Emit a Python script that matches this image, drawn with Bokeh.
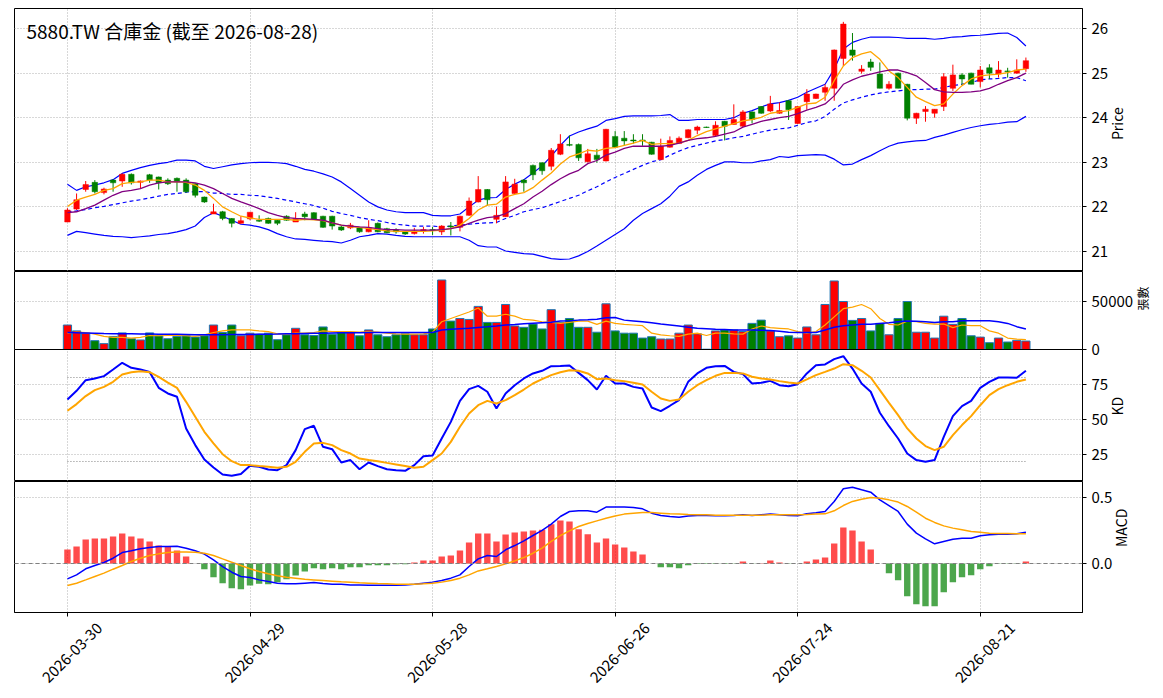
import math
from bokeh.plotting import figure
from bokeh.models import Range1d, FixedTicker, Span, Label, LinearAxis
from bokeh.layouts import column
from bokeh.embed import file_html
from bokeh.resources import INLINE

FONT = "Noto Sans CJK TC"
TITLE = "5880.TW 合庫金 (截至 2026-08-28)"

TICK_POS = [0, 20, 40, 60, 80, 100]
TICK_LABELS = ["2026-03-30", "2026-04-29", "2026-05-28", "2026-06-26", "2026-07-24", "2026-08-21"]

OPEN = [21.66,21.95,22.39,22.55,22.32,22.60,22.58,22.73,22.55,22.72,
        22.67,22.60,22.64,22.60,22.52,22.22,21.84,21.89,21.74,21.63,
        21.73,21.70,21.74,21.70,21.79,21.66,21.84,21.87,21.79,21.79,
        21.55,21.53,21.53,21.44,21.63,21.51,21.48,21.44,21.40,21.46,
        21.49,21.44,21.57,21.54,21.81,22.11,22.39,21.72,21.78,22.30,
        22.60,22.93,22.99,22.91,23.18,23.40,23.40,23.01,23.16,23.03,
        23.58,23.54,23.50,23.50,23.45,23.06,23.34,23.42,23.55,23.72,
        23.79,23.60,23.92,23.85,23.81,24.13,24.25,24.15,24.10,24.38,
        23.87,24.36,24.43,24.57,24.66,25.33,25.52,25.04,25.25,24.98,
        24.66,25.00,24.75,23.99,24.14,24.10,24.25,24.66,24.96,25.00,
        24.81,25.12,24.98,25.05,25.00,25.10]
HIGH = [21.97,22.30,22.58,22.60,22.43,22.62,22.75,22.75,22.59,22.74,
        22.68,22.64,22.66,22.64,22.53,22.23,22.07,21.91,21.75,21.79,
        21.88,21.81,21.76,21.71,21.81,21.88,21.89,21.88,21.80,21.80,
        21.57,21.64,21.55,21.70,21.65,21.53,21.52,21.46,21.53,21.55,
        21.55,21.59,21.66,21.80,22.21,22.69,22.40,22.01,22.69,22.63,
        22.62,22.95,23.00,23.32,23.63,23.60,23.42,23.30,23.30,23.75,
        23.70,23.70,23.63,23.63,23.46,23.53,23.58,23.58,23.74,23.82,
        23.80,23.92,23.93,24.30,24.17,24.14,24.26,24.49,24.34,24.40,
        24.26,24.64,24.54,24.75,25.53,26.15,25.90,25.18,25.32,25.24,
        24.82,25.01,24.76,24.11,24.26,24.19,25.00,25.19,25.00,25.01,
        25.16,25.20,25.27,25.12,25.31,25.35]
LOW = [21.66,21.93,22.34,22.30,22.28,22.34,22.45,22.50,22.41,22.54,
       22.39,22.49,22.34,22.31,22.21,22.09,21.84,21.70,21.54,21.62,
       21.70,21.66,21.62,21.59,21.69,21.66,21.70,21.72,21.53,21.49,
       21.46,21.50,21.42,21.43,21.43,21.41,21.40,21.37,21.38,21.40,
       21.37,21.37,21.36,21.45,21.80,22.10,22.03,21.63,21.78,22.29,
       22.34,22.60,22.72,22.82,23.16,23.36,23.03,23.00,22.99,23.02,
       23.32,23.38,23.42,23.37,23.17,23.05,23.33,23.41,23.54,23.63,
       23.77,23.59,23.49,23.84,23.79,23.87,24.09,24.13,24.09,23.95,
       23.86,24.18,24.42,24.38,24.38,25.16,25.28,24.99,25.05,24.66,
       24.63,24.66,23.94,23.86,23.91,24.00,24.15,24.60,24.73,24.75,
       24.68,24.87,24.90,24.90,24.99,25.03]
CLOSE = [21.93,22.16,22.50,22.34,22.40,22.54,22.73,22.54,22.58,22.60,
         22.54,22.52,22.56,22.34,22.26,22.11,21.89,21.74,21.63,21.69,
         21.88,21.68,21.63,21.63,21.70,21.74,21.78,21.73,21.54,21.57,
         21.48,21.59,21.44,21.53,21.44,21.42,21.44,21.39,21.46,21.49,
         21.47,21.57,21.55,21.79,22.13,22.39,22.16,21.81,22.56,22.51,
         22.54,22.72,22.81,23.27,23.41,23.38,23.10,23.19,23.06,23.74,
         23.34,23.48,23.48,23.48,23.18,23.36,23.49,23.54,23.73,23.79,
         23.78,23.83,23.81,23.96,24.13,23.96,24.10,24.31,24.16,24.18,
         24.25,24.53,24.53,24.68,25.52,26.10,25.40,25.09,25.13,24.66,
         24.75,24.66,23.99,24.10,24.19,24.19,24.92,24.96,24.87,24.75,
         25.07,25.00,25.07,25.03,25.07,25.28]

MA5 = [22.01,22.15,22.22,22.28,22.37,22.41,22.52,22.55,22.56,22.60,
       22.60,22.56,22.56,22.55,22.49,22.37,22.19,22.00,21.89,21.79,
       21.75,21.72,21.72,21.72,21.72,21.70,21.72,21.71,21.69,21.64,
       21.59,21.55,21.54,21.51,21.49,21.46,21.45,21.45,21.45,21.45,
       21.46,21.48,21.51,21.59,21.74,21.93,22.04,22.06,22.22,22.28,
       22.32,22.43,22.60,22.76,22.96,23.12,23.19,23.27,23.25,23.31,
       23.33,23.38,23.43,23.49,23.40,23.42,23.42,23.43,23.49,23.60,
       23.69,23.75,23.81,23.87,23.93,23.96,24.01,24.10,24.13,24.16,
       24.23,24.31,24.33,24.46,24.83,25.16,25.35,25.43,25.48,25.31,
       25.05,24.90,24.68,24.46,24.36,24.27,24.31,24.53,24.72,24.87,
       24.94,24.96,24.98,25.01,25.07,25.09]
MA10 = [21.87,21.89,21.96,22.04,22.15,22.26,22.34,22.37,22.41,22.49,
        22.54,22.56,22.56,22.56,22.54,22.49,22.41,22.30,22.19,22.11,
        22.04,21.96,21.87,21.81,21.76,21.74,21.73,21.72,21.70,21.64,
        21.59,21.57,21.55,21.54,21.51,21.49,21.49,21.48,21.48,21.48,
        21.48,21.49,21.51,21.55,21.63,21.70,21.76,21.78,21.85,21.96,
        22.07,22.22,22.35,22.50,22.63,22.74,22.82,22.97,23.04,23.16,
        23.23,23.31,23.36,23.36,23.36,23.36,23.38,23.43,23.49,23.53,
        23.55,23.58,23.63,23.68,23.79,23.85,23.92,23.96,24.00,24.03,
        24.09,24.17,24.23,24.31,24.49,24.75,24.85,24.93,24.98,25.03,
        25.07,25.07,25.01,24.94,24.79,24.63,24.58,24.57,24.57,24.58,
        24.60,24.66,24.75,24.83,24.90,25.00]
BB_MID = [21.89,21.91,21.94,21.98,22.01,22.05,22.09,22.13,22.16,22.20,
          22.24,22.28,22.30,22.33,22.34,22.34,22.31,22.30,22.28,22.28,
          22.26,22.25,22.22,22.19,22.15,22.11,22.07,22.03,21.97,21.90,
          21.85,21.81,21.76,21.72,21.69,21.65,21.61,21.59,21.57,21.57,
          21.57,21.55,21.57,21.59,21.61,21.63,21.64,21.65,21.74,21.81,
          21.89,21.94,21.98,22.05,22.12,22.19,22.26,22.36,22.45,22.56,
          22.66,22.75,22.84,22.93,23.01,23.06,23.16,23.25,23.33,23.38,
          23.43,23.48,23.51,23.55,23.58,23.63,23.68,23.72,23.75,23.77,
          23.83,23.89,23.93,24.03,24.19,24.33,24.40,24.46,24.51,24.55,
          24.58,24.60,24.63,24.63,24.64,24.64,24.68,24.72,24.75,24.79,
          24.85,24.87,24.88,24.90,24.90,24.83]
BB_UP = [22.51,22.37,22.45,22.49,22.54,22.61,22.75,22.82,22.88,22.93,
         22.97,23.00,23.05,23.05,23.03,22.91,22.86,22.90,22.94,22.97,
         22.99,23.00,23.00,22.99,22.97,22.91,22.84,22.80,22.74,22.67,
         22.56,22.41,22.26,22.11,22.00,21.93,21.89,21.87,21.87,21.87,
         21.81,21.80,21.80,21.84,22.00,22.15,22.20,22.21,22.39,22.51,
         22.61,22.76,22.92,23.14,23.38,23.59,23.68,23.75,23.81,23.94,
         23.98,24.03,24.04,24.04,24.04,24.05,24.07,23.94,23.94,23.96,
         23.96,23.96,23.96,24.00,24.10,24.16,24.24,24.31,24.34,24.39,
         24.46,24.57,24.66,24.75,25.09,25.54,25.69,25.76,25.81,25.81,
         25.81,25.80,25.78,25.78,25.78,25.76,25.78,25.81,25.82,25.84,
         25.85,25.87,25.89,25.90,25.80,25.61]
BB_LOW = [21.36,21.45,21.42,21.39,21.36,21.34,21.33,21.31,21.33,21.35,
          21.38,21.40,21.44,21.49,21.57,21.76,21.87,21.79,21.70,21.61,
          21.59,21.55,21.49,21.40,21.33,21.28,21.27,21.25,21.23,21.22,
          21.19,21.25,21.33,21.36,21.40,21.39,21.36,21.34,21.33,21.33,
          21.33,21.33,21.33,21.33,21.25,21.13,21.10,21.10,21.01,20.98,
          20.95,20.94,20.89,20.84,20.82,20.83,20.90,21.00,21.12,21.25,
          21.38,21.51,21.70,21.85,21.96,22.07,22.24,22.46,22.56,22.71,
          22.84,22.93,23.01,23.01,22.99,22.99,23.03,23.06,23.13,23.11,
          23.15,23.16,23.17,23.16,23.07,22.94,22.96,23.06,23.15,23.26,
          23.36,23.43,23.46,23.48,23.49,23.56,23.61,23.67,23.73,23.78,
          23.82,23.85,23.87,23.90,23.91,24.03]

VOLUME = [25500,19400,17000,9200,6100,13600,17300,11200,9900,17300,
          14300,11200,13600,14300,12900,14300,25500,17700,25500,14300,
          17000,16000,17000,10200,15300,22100,15300,14600,23500,16000,
          17700,17700,14300,20400,15300,13300,15300,16300,15300,15300,
          21400,72400,29600,32300,31300,44900,28200,28200,46900,24500,
          23100,26500,21400,41500,28200,32300,23100,23100,18000,47600,
          19400,17000,17000,11900,13300,10900,10900,17000,25500,16300,
          300,19400,20400,20400,18700,27200,30600,19400,13300,14300,
          11900,23500,15300,46900,71400,50000,30300,32300,19400,27200,
          15300,32300,50000,18000,18000,11900,34700,26200,32300,14300,
          12900,7100,11900,7800,9500,8800]
VOL_MA5 = [17000,18000,17700,16000,13600,12600,12600,11900,12600,14600,
           14300,14600,14600,14300,13600,15300,17700,19400,20400,20400,
           20400,19400,18700,16300,16000,17000,17000,17700,19400,18700,
           18700,18700,18000,18700,18000,17000,16300,16000,16000,16300,
           18000,28900,32300,35700,39100,43200,34700,34700,36700,34700,
           31300,30600,28900,28200,27200,28200,29600,29600,26200,29600,
           27200,26200,25500,24800,17000,15300,14300,13600,16000,17000,
           14600,17000,17000,16300,16000,21400,24500,22800,22100,21400,
           18700,17000,18700,25500,34000,42500,44200,46900,42500,32300,
           26200,25500,29600,28900,27200,26500,26500,22800,25500,24800,
           24800,19400,17000,11900,10900,10200]
VOL_MA20 = [17700,17500,17300,17000,16700,16500,16400,16300,16200,16100,
            16000,15900,15800,15600,15400,15300,15300,15400,15500,15600,
            15600,15800,16000,16100,16300,16300,16600,16800,17000,17300,
            17400,17500,17500,17600,17600,17700,17700,17700,17700,17700,
            17700,20400,21000,21600,22100,23000,23600,24500,25500,26000,
            26700,27300,27900,28500,29600,30000,30600,31000,31600,33000,
            33300,30600,29800,28900,27800,26500,25500,24500,23300,22100,
            21600,21100,20800,20400,20400,20400,20100,19700,19000,18000,
            17800,17700,17700,20400,23100,24800,25500,26200,26200,27200,
            27900,28900,29600,29300,28800,28200,28900,28900,29900,29900,
            29900,29900,28900,27200,23800,21400]

K = [64.3,70.5,78.1,79.3,81.0,85.7,90.5,86.9,85.7,84.0,
     72.6,68.6,66.2,43.6,31.7,21.4,15.7,10.7,9.8,11.0,
     16.9,16.2,14.3,13.8,17.4,28.1,43.1,45.5,30.5,28.8,
     19.3,21.0,14.5,19.3,16.7,14.5,13.8,13.3,17.4,23.8,
     24.3,36.4,48.3,63.3,71.7,74.0,69.8,57.9,68.6,74.5,
     79.3,82.9,84.8,88.1,88.3,88.6,83.3,78.1,71.4,81.2,
     75.7,75.7,73.3,72.1,58.6,56.0,59.8,63.8,76.9,82.9,
     86.9,88.1,88.3,84.0,82.4,75.7,76.2,77.6,74.5,73.8,
     75.2,82.9,88.8,89.3,93.1,95.2,86.4,75.7,69.8,54.8,
     45.2,36.4,25.7,21.0,19.8,21.0,37.6,52.4,59.5,63.3,
     72.6,76.9,80.0,80.0,79.8,84.8]
D = [56.2,61.0,66.7,71.0,73.3,76.9,82.1,83.8,84.5,83.8,
     80.5,76.4,72.6,62.6,51.9,41.2,32.9,25.2,20.2,17.4,
     17.4,16.7,16.2,15.5,16.2,19.8,26.9,32.9,33.3,31.7,
     28.1,25.7,22.1,21.0,20.2,19.0,17.9,16.7,15.5,16.2,
     21.0,25.7,34.0,44.8,54.3,60.2,63.3,61.4,63.8,67.4,
     71.4,75.7,78.8,81.7,83.8,85.2,84.8,82.9,78.8,79.3,
     78.1,77.4,76.2,75.0,69.8,65.0,63.3,64.3,69.8,74.5,
     78.1,81.2,83.3,83.3,82.9,80.5,79.3,78.6,77.4,76.4,
     75.7,78.6,81.7,84.0,86.4,89.5,88.8,84.8,80.0,71.0,
     61.9,53.1,43.6,36.4,31.0,28.1,30.5,38.8,46.0,52.4,
     60.2,67.4,71.7,74.5,76.9,78.6]
KD_LEVELS = [20, 80]

DIF = [-0.116,-0.086,-0.040,-0.015,0.008,0.040,0.083,0.096,0.111,0.121,
       0.129,0.129,0.131,0.116,0.096,0.071,0.028,-0.023,-0.066,-0.098,
       -0.106,-0.124,-0.136,-0.149,-0.154,-0.154,-0.149,-0.144,-0.152,-0.157,
       -0.157,-0.162,-0.162,-0.164,-0.164,-0.164,-0.164,-0.162,-0.157,-0.149,
       -0.141,-0.129,-0.111,-0.086,-0.023,0.035,0.061,0.053,0.104,0.136,
       0.172,0.212,0.251,0.298,0.356,0.394,0.399,0.399,0.389,0.427,
       0.427,0.427,0.424,0.414,0.381,0.364,0.356,0.351,0.359,0.364,
       0.364,0.361,0.361,0.364,0.369,0.364,0.369,0.374,0.369,0.364,
       0.361,0.376,0.384,0.394,0.470,0.566,0.578,0.558,0.540,0.482,
       0.439,0.394,0.298,0.230,0.187,0.149,0.167,0.184,0.192,0.192,
       0.210,0.217,0.222,0.222,0.225,0.237]
DEA = [-0.167,-0.149,-0.124,-0.098,-0.073,-0.043,-0.015,0.015,0.040,0.061,
       0.073,0.083,0.088,0.088,0.086,0.078,0.061,0.035,0.010,-0.015,
       -0.040,-0.061,-0.078,-0.093,-0.104,-0.111,-0.119,-0.124,-0.129,-0.134,
       -0.139,-0.141,-0.146,-0.149,-0.152,-0.154,-0.157,-0.157,-0.157,-0.154,
       -0.149,-0.141,-0.129,-0.111,-0.086,-0.056,-0.040,-0.023,-0.003,0.020,
       0.045,0.078,0.116,0.167,0.212,0.247,0.280,0.303,0.323,0.343,
       0.359,0.374,0.381,0.386,0.386,0.381,0.376,0.374,0.371,0.369,
       0.369,0.366,0.366,0.366,0.366,0.366,0.366,0.369,0.369,0.369,
       0.369,0.371,0.374,0.376,0.399,0.439,0.470,0.487,0.500,0.495,
       0.482,0.465,0.432,0.389,0.343,0.311,0.285,0.268,0.255,0.242,
       0.237,0.230,0.227,0.227,0.225,0.225]
HIST = [0.106,0.129,0.182,0.189,0.189,0.205,0.227,0.205,0.189,0.167,
        0.136,0.129,0.098,0.053,0.0,-0.043,-0.104,-0.149,-0.187,-0.194,
        -0.167,-0.154,-0.157,-0.141,-0.119,-0.091,-0.061,-0.035,-0.043,-0.035,
        -0.043,-0.028,-0.028,-0.013,-0.013,-0.013,-0.005,-0.005,0.008,0.023,
        0.023,0.053,0.061,0.098,0.159,0.227,0.227,0.167,0.220,0.235,
        0.242,0.250,0.255,0.298,0.326,0.318,0.260,0.222,0.159,0.189,
        0.144,0.121,0.091,0.068,0.0,-0.028,-0.028,-0.035,-0.013,-0.003,
        -0.003,-0.003,-0.003,-0.002,0.015,-0.002,0.002,0.023,0.008,-0.002,
        0.0,0.015,0.030,0.045,0.152,0.273,0.250,0.167,0.106,0.0,
        -0.073,-0.126,-0.247,-0.308,-0.323,-0.323,-0.217,-0.141,-0.104,-0.088,
        -0.043,-0.020,-0.002,-0.002,-0.002,0.015]

n = len(CLOSE)
for arr in (OPEN, HIGH, LOW, MA5, MA10, BB_MID, BB_UP, BB_LOW, VOLUME, VOL_MA5,
            VOL_MA20, K, D, DIF, DEA, HIST):
    assert len(arr) == n, len(arr)

idx = list(range(n))
up = [c >= o for o, c in zip(OPEN, CLOSE)]
ccolor = ["red" if u else "green" for u in up]
body_top = [max(o, c) for o, c in zip(OPEN, CLOSE)]
body_bot = [min(o, c) for o, c in zip(OPEN, CLOSE)]
hcolor = ["red" if h >= 0 else "green" for h in HIST]

FRAME_W = 1068
xr = Range1d(-5.8, 111.2)
GRID_C = "#b0b0b0"
TICK_FS = "15px"
LABEL_SHIFT = 3.5  # bars: centres the 45-degree date labels on their ticks


def make(frame_h, y0, y1, yticks, ylabel, label_size="14px", top_border=0,
         bottom_border=0, overrides=None, xaxis=False):
    p = figure(frame_width=FRAME_W, frame_height=frame_h, x_range=xr, y_range=Range1d(y0, y1),
               output_backend="svg", toolbar_location=None, y_axis_location="right",
               x_axis_location="below" if xaxis else None,
               min_border_left=14, min_border_right=75, min_border_top=top_border,
               min_border_bottom=bottom_border)
    p.outline_line_color = "black"
    p.outline_line_alpha = 1.0
    p.outline_line_width = 1
    p.background_fill_color = "white"
    p.border_fill_color = "white"
    ax = p.yaxis[0]
    ax.ticker = FixedTicker(ticks=yticks)
    if overrides:
        ax.major_label_overrides = overrides
    ax.axis_label = ylabel
    try:
        ax.axis_label_orientation = math.pi / 2
    except Exception:
        pass
    ax.axis_label_text_font = FONT
    ax.axis_label_text_font_size = label_size
    ax.axis_label_text_font_style = "normal"
    ax.axis_label_text_color = "black"
    ax.axis_label_standoff = 6
    ax.major_label_text_font = FONT
    ax.major_label_text_font_size = TICK_FS
    ax.major_label_text_color = "black"
    ax.major_label_standoff = 5
    ax.major_tick_out = 4
    ax.major_tick_in = 0
    ax.minor_tick_line_color = None
    ax.axis_line_color = "black"
    p.ygrid.ticker = FixedTicker(ticks=yticks)
    p.xgrid.ticker = FixedTicker(ticks=TICK_POS)
    for g in p.grid:
        g.grid_line_color = GRID_C
        g.grid_line_dash = "1 2"
        g.grid_line_width = 1
    if xaxis:
        xa = p.xaxis[0]
        xa.ticker = FixedTicker(ticks=TICK_POS)
        xa.major_label_overrides = {t: "" for t in TICK_POS}
        xa.major_label_text_font_size = "1px"
        xa.major_label_standoff = 0
        xa.major_tick_out = 4
        xa.major_tick_in = 0
        xa.minor_tick_line_color = None
        xa.axis_line_color = "black"
        # label-only axis with the dates, rotated 45 degrees
        la = LinearAxis(ticker=FixedTicker(ticks=[t + LABEL_SHIFT for t in TICK_POS]),
                        major_label_overrides={t + LABEL_SHIFT: s for t, s in zip(TICK_POS, TICK_LABELS)},
                        major_label_orientation=math.pi / 4,
                        major_label_text_font=FONT, major_label_text_font_size=TICK_FS,
                        major_label_text_color="black", major_label_standoff=3,
                        major_tick_line_color=None, minor_tick_line_color=None,
                        axis_line_color=None)
        p.add_layout(la, "below")
    return p


# ---- price panel
PRICE_Y0, PRICE_Y1 = 20.55, 26.45
p1 = make(263, PRICE_Y0, PRICE_Y1, [21, 22, 23, 24, 25, 26], "Price", top_border=8)
p1.line(idx, BB_UP, color="blue", line_width=1.2)
p1.line(idx, BB_LOW, color="blue", line_width=1.2)
p1.line(idx, BB_MID, color="blue", line_width=1.2, line_dash="4 3")
p1.segment(x0=idx, y0=LOW, x1=idx, y1=HIGH, color=ccolor, line_width=1)
p1.vbar(x=idx, width=0.6, top=body_top, bottom=body_bot, fill_color=ccolor, line_color=ccolor, line_width=0.5)
p1.line(idx, MA5, color="orange", line_width=1.3)
p1.line(idx, MA10, color="purple", line_width=1.3)
px_per_price = 263 / (PRICE_Y1 - PRICE_Y0)
px_per_bar = FRAME_W / (xr.end - xr.start)
p1.add_layout(Label(x=xr.start + 12 / px_per_bar, y=PRICE_Y1 - 22 / px_per_price, text=TITLE,
                    text_font=FONT, text_font_size="19px", text_baseline="middle",
                    text_align="left", text_color="black"))

# ---- volume panel
p2 = make(78, 0, 81250, [0, 50000], "張數", label_size="12px", bottom_border=12)
p2.vbar(x=idx, width=0.9, top=VOLUME, bottom=0, fill_color=ccolor, line_color="#1f77b4", line_width=1)
p2.line(idx, VOL_MA5, color="orange", line_width=1.2)
p2.line(idx, VOL_MA20, color="blue", line_width=1.5)

# ---- KD panel
p3 = make(132, 5.7, 100, [25, 50, 75], "KD")
p3.margin = (-12, 0, 0, 0)
p3.border_fill_alpha = 0.0
for lvl in KD_LEVELS:
    p3.line([idx[0], idx[-1]], [lvl, lvl], color="gray", line_dash="1 2", line_width=1)
p3.line(idx, K, color="blue", line_width=2)
p3.line(idx, D, color="orange", line_width=2)

# ---- MACD panel
MACD_Y0, MACD_Y1 = -0.371, 0.621
p4 = make(131, MACD_Y0, MACD_Y1, [0.0, 0.5], "MACD", bottom_border=78, xaxis=True,
          overrides={0.0: "0.0", 0.5: "0.5"})
p4.vbar(x=idx, width=0.7, top=HIST, bottom=0, fill_color=hcolor, fill_alpha=0.7, line_color=None)
p4.add_layout(Span(location=0, dimension="width", line_color="gray", line_dash="4 3", line_width=1))
p4.line(idx, DIF, color="blue", line_width=1.5)
p4.line(idx, DEA, color="orange", line_width=1.5)

layout = column(p1, p2, p3, p4, spacing=0)
open("out.html", "w").write(file_html(layout, INLINE, title="5880.TW"))
